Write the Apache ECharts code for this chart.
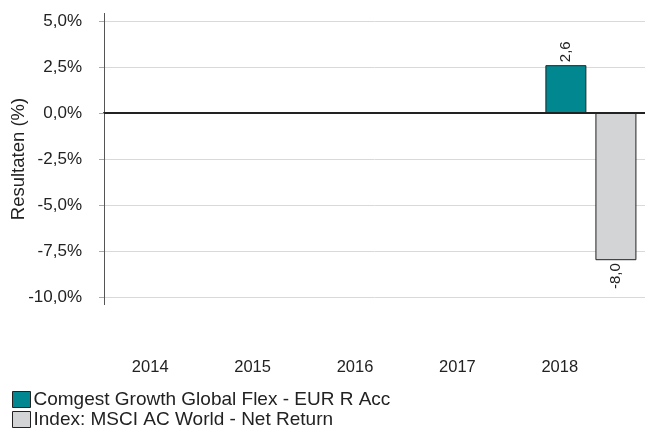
<!DOCTYPE html>
<html>
<head>
<meta charset="utf-8">
<script src="https://cdn.jsdelivr.net/npm/echarts@6/dist/echarts.min.js"></script>
<style>
html,body{margin:0;padding:0;background:#fff;}
#chart{width:645px;height:430px;}
</style>
</head>
<body>
<div id="chart"></div>
<script>
var years = ['2014','2015','2016','2017','2018'];
var fundName = 'Comgest Growth Global Flex - EUR R Acc';
var indexName = 'Index: MSCI AC World - Net Return';
var fundValues = [null,null,null,null,2.6];
var indexValues = [null,null,null,null,-8.0];

function fmt(v){
	return v.toFixed(1).replace('.',',');
}

function barData(vals){
	var out = [];
	for(var i=0;i<vals.length;i++){
		var v = vals[i];
		if(v == null){ out.push(null); continue; }
		out.push({
			value:v,
			label:{
				position: v >= 0 ? 'top' : 'bottom',
				align: v >= 0 ? 'left' : 'right'
			}
		});
	}
	return out;
}

var lbl = {
	show:true,
	rotate:90,
	distance:3,
	verticalAlign:'middle',
	color:'#222',
	fontSize:15,
	fontFamily:'Liberation Sans',
	formatter:function(p){ return fmt(p.value); }
};

var myChart = echarts.init(document.getElementById('chart'));
var option = {
	animation:false,
	textStyle:{fontFamily:'Liberation Sans'},
	grid:[
		{left:104,right:0,top:21,bottom:133,containLabel:false,outerBoundsMode:'none'},
		{left:99,right:34,top:21,bottom:133,containLabel:false,outerBoundsMode:'none'}
	],
	legend:{
		orient:'vertical',
		left:12,
		top:390,
		padding:0,
		icon:'rect',
		itemWidth:18,
		itemHeight:16,
		itemGap:1,
		itemStyle:{borderWidth:1,borderColor:'#222'},
		textStyle:{fontSize:19,lineHeight:19,color:'#222',padding:[0,0,0,-2]},
		data:[fundName,indexName]
	},
	xAxis:[
		{
			type:'category',
			gridIndex:0,
			data:years,
			axisLine:{onZero:true,lineStyle:{color:'#222',width:2}},
			axisTick:{show:false},
			axisLabel:{show:false}
		},
		{
			type:'category',
			gridIndex:1,
			data:years,
			position:'bottom',
			axisLine:{show:false},
			axisTick:{show:false},
			axisLabel:{margin:62,fontSize:16.5,color:'#222'}
		}
	],
	yAxis:[
		{
			type:'value',
			gridIndex:0,
			min:-10,
			max:5,
			interval:2.5,
			name:'Resultaten (%)',
			nameLocation:'middle',
			nameGap:76,
			nameMoveOverlap:false,
			nameTextStyle:{fontSize:18.5,color:'#222'},
			axisLine:{show:true,lineStyle:{color:'#555'}},
			axisTick:{show:true,length:5,lineStyle:{color:'#aaa'}},
			axisLabel:{fontSize:17,color:'#222',margin:22,formatter:function(v){return fmt(v)+'%';}},
			splitLine:{lineStyle:{color:'#d9d9d9'}}
		},
		{
			type:'value',
			gridIndex:1,
			show:false
		}
	],
	series:[
		{
			name:fundName,
			type:'bar',
			xAxisIndex:0,
			yAxisIndex:0,
			barWidth:41,
			barGap:'22%',
			itemStyle:{color:'#00878F',borderColor:'#222',borderWidth:1},
			label:lbl,
			data:barData(fundValues)
		},
		{
			name:indexName,
			type:'bar',
			xAxisIndex:0,
			yAxisIndex:0,
			barWidth:41,
			barGap:'22%',
			itemStyle:{color:'#D3D4D6',borderColor:'#222',borderWidth:1},
			label:lbl,
			data:barData(indexValues)
		}
	]
};
myChart.setOption(option);

// y-as lijn loopt iets voorbij het plotgebied
var yTop = myChart.convertToPixel({yAxisIndex:0},5);
var yBot = myChart.convertToPixel({yAxisIndex:0},-10);
myChart.setOption({
	graphic:[{
		type:'line',
		shape:{x1:104.5,y1:yTop-8,x2:104.5,y2:yBot+8},
		style:{stroke:'#555',lineWidth:1}
	}]
});
</script>
</body>
</html>
